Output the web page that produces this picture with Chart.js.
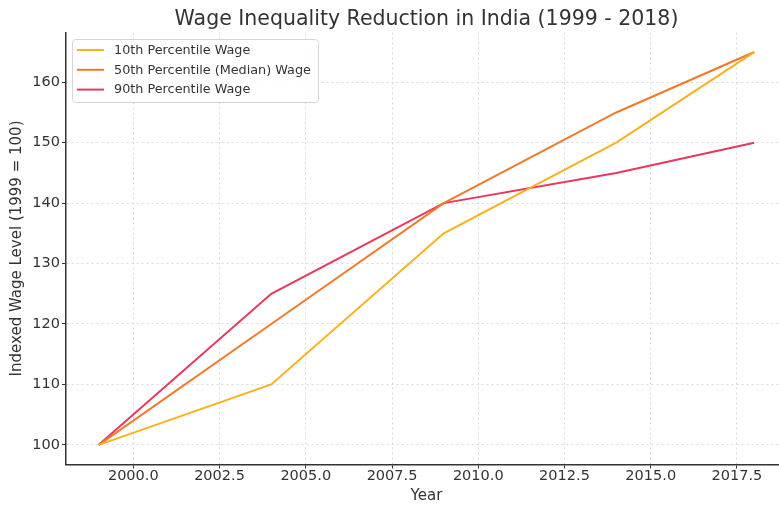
<!DOCTYPE html>
<html>
<head>
<meta charset="utf-8">
<script src="https://cdn.jsdelivr.net/npm/chart.js@4.4.1/dist/chart.umd.min.js"></script>
<style>
  html, body { margin: 0; padding: 0; background: #fff; overflow: hidden; }
  #wrap { width: 853px; height: 506px; }
</style>
</head>
<body>
<div id="wrap"><canvas id="c" width="853" height="506"></canvas></div>
<script>
// Survey years and indexed wage levels (1999 = 100)
const years = [1999, 2004, 2009, 2014, 2018];
const p10 = [100, 110, 135, 150, 165];
const p50 = [100, 120, 140, 155, 165];
const p90 = [100, 125, 140, 145, 150];

const seriesLabels = ['10th Percentile Wage', '50th Percentile (Median) Wage', '90th Percentile Wage'];
const xTicks = [2000, 2002.5, 2005, 2007.5, 2010, 2012.5, 2015, 2017.5];
const yTicks = [100, 110, 120, 130, 140, 150, 160];

const colors = ['#F9B21E', '#F07A2A', '#E8385C'];
const FONT = 'DejaVu Sans';
const TEXT = '#333333';

function pts(vals) { return years.map((y, i) => ({ x: y, y: vals[i] })); }

// Legend box drawn inside the plot's upper-left corner
const boxLegend = {
  id: 'boxLegend',
  afterDatasetsDraw(chart) {
    const ctx = chart.ctx;
    const x0 = 72, y0 = 39, w = 246, h = 63;
    ctx.save();
    ctx.beginPath();
    ctx.roundRect(x0 + 0.5, y0 + 0.5, w, h, 3);
    ctx.fillStyle = 'rgba(255,255,255,0.85)';
    ctx.fill();
    ctx.strokeStyle = '#d6d6d6';
    ctx.lineWidth = 1;
    ctx.stroke();
    ctx.font = '12.8px "' + FONT + '"';
    ctx.textBaseline = 'middle';
    chart.data.datasets.forEach((ds, i) => {
      const yy = 50 + i * 19.8;
      ctx.beginPath();
      ctx.moveTo(77, yy);
      ctx.lineTo(104, yy);
      ctx.strokeStyle = ds.borderColor;
      ctx.lineWidth = 2;
      ctx.stroke();
      ctx.fillStyle = TEXT;
      ctx.fillText(ds.label, 114, yy + 0.5);
    });
    ctx.restore();
  }
};

const gridOpts = {
  color: '#cfcfcf',
  lineWidth: 0.8,
  tickLength: 4,
  tickColor: '#333',
  tickWidth: 1
};

new Chart(document.getElementById('c'), {
  type: 'line',
  data: {
    datasets: [
      { label: seriesLabels[0], data: pts(p10), borderColor: colors[0] },
      { label: seriesLabels[1], data: pts(p50), borderColor: colors[1] },
      { label: seriesLabels[2], data: pts(p90), borderColor: colors[2] }
    ]
  },
  options: {
    responsive: false,
    animation: false,
    devicePixelRatio: 1,
    layout: { padding: 0 },
    elements: {
      line: { borderWidth: 2, tension: 0, fill: false },
      point: { radius: 0, hoverRadius: 0 }
    },
    plugins: {
      legend: { display: false },
      tooltip: { enabled: false },
      title: {
        display: true,
        text: 'Wage Inequality Reduction in India (1999 - 2018)',
        color: TEXT,
        font: { family: FONT, size: 20.5, weight: 'normal', lineHeight: 1.2 },
        padding: { top: 7, bottom: 0.8 }
      }
    },
    scales: {
      x: {
        type: 'linear',
        min: 1998.05,
        max: 2018.95,
        afterBuildTicks: s => { s.ticks = xTicks.map(v => ({ value: v })); },
        afterFit: s => { s.height = 41.5; },
        ticks: {
          color: TEXT,
          font: { family: FONT, size: 14.5 },
          padding: -1,
          maxRotation: 0,
          autoSkip: false,
          callback: v => Number(v).toFixed(1)
        },
        grid: gridOpts,
        border: { display: true, color: '#333', width: 1.5, dash: [2, 3] },
        title: {
          display: true,
          text: 'Year',
          color: TEXT,
          font: { family: FONT, size: 15, lineHeight: 1.2 },
          padding: { top: 0, bottom: 0.5 }
        }
      },
      y: {
        type: 'linear',
        min: 96.75,
        max: 168.25,
        afterBuildTicks: s => { s.ticks = yTicks.map(v => ({ value: v })); },
        afterFit: s => { s.width = 66; },
        ticks: {
          color: TEXT,
          font: { family: FONT, size: 14.5 },
          padding: 2
        },
        grid: gridOpts,
        border: { display: true, color: '#333', width: 1.5, dash: [2, 3] },
        title: {
          display: true,
          text: 'Indexed Wage Level (1999 = 100)',
          color: TEXT,
          font: { family: FONT, size: 15, lineHeight: 1.2 },
          padding: { top: 8.5, bottom: 0 }
        }
      },
      // empty margin on the right so the plot runs past the visible edge
      yRight: {
        type: 'linear',
        position: 'right',
        min: 0,
        max: 1,
        afterFit: s => { s.width = 66; },
        ticks: { display: false },
        grid: { display: false, drawOnChartArea: false },
        border: { display: false }
      }
    }
  },
  plugins: [boxLegend]
});
</script>
</body>
</html>
